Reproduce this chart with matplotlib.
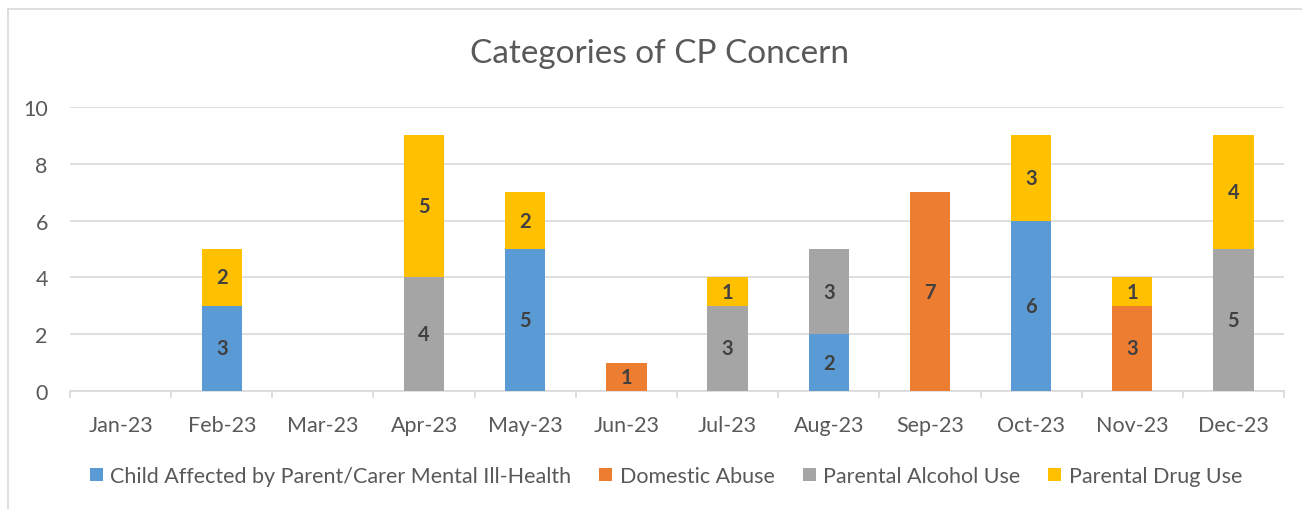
import matplotlib
matplotlib.use("Agg")
import matplotlib.pyplot as plt
from matplotlib.lines import Line2D
import numpy as np

plt.rcParams['font.family'] = ['Lato', 'DejaVu Sans']

months = ["Jan-23", "Feb-23", "Mar-23", "Apr-23", "May-23", "Jun-23",
          "Jul-23", "Aug-23", "Sep-23", "Oct-23", "Nov-23", "Dec-23"]
mental_health = [0, 3, 0, 0, 5, 0, 0, 2, 0, 6, 0, 0]
domestic_abuse = [0, 0, 0, 0, 0, 1, 0, 0, 7, 0, 3, 0]
alcohol_use = [0, 0, 0, 4, 0, 0, 3, 3, 0, 0, 0, 5]
drug_use = [0, 2, 0, 5, 2, 0, 1, 0, 0, 3, 1, 4]

series_names = ["Child Affected by Parent/Carer Mental Ill-Health",
                "Domestic Abuse", "Parental Alcohol Use", "Parental Drug Use"]
colors = ["#5B9BD5", "#ED7D31", "#A5A5A5", "#FFC000"]

fig = plt.figure(figsize=(13.02, 5.10), dpi=100)
ax = fig.add_axes([70/1302, 1-392/510, (1284-70)/1302, (392-108)/510])

x = np.arange(len(months))
bottom = np.zeros(len(months))
handles = []
for vals, name, col in zip([mental_health, domestic_abuse, alcohol_use, drug_use], series_names, colors):
    vals = np.array(vals, dtype=float)
    bars = ax.bar(x, vals, width=0.4, bottom=bottom, color=col, label=name, zorder=3)
    for xi, v, b in zip(x, vals, bottom):
        if v > 0:
            ax.text(xi, b + v/2, f"{int(v)}", ha='center', va='center',
                    fontsize=14.5, fontweight='bold', color='#404040', zorder=4)
    bottom += vals
    handles.append(bars)

ax.set_xlim(-0.5, 11.5)
ax.set_ylim(0, 10)
ax.set_yticks([0, 2, 4, 6, 8, 10])
ax.set_xticks(x)
ax.set_xticklabels(months)
ax.yaxis.grid(True, color='#D9D9D9', linewidth=1.2, zorder=0)
ax.set_axisbelow(True)
for s in ['top', 'right', 'left']:
    ax.spines[s].set_visible(False)
ax.spines['bottom'].set_color('#D9D9D9')
ax.spines['bottom'].set_linewidth(1.2)
ax.tick_params(axis='y', length=0, pad=16, labelsize=15.5, labelcolor='#595959')
ax.tick_params(axis='x', length=0, pad=17, labelsize=15.5, labelcolor='#595959')
# Minor ticks at category boundaries (Excel style)
ax.set_xticks(np.arange(-0.5, 12, 1), minor=True)
ax.tick_params(axis='x', which='minor', length=5, width=1.2, color='#D9D9D9', direction='out')

fig.text(660/1302, 1-54/510, "Categories of CP Concern", ha='center', va='center',
         fontsize=24, color='#595959')

leg = fig.legend(handles=handles, labels=series_names, loc='center',
                 bbox_to_anchor=(666/1302, 1-477/510), ncol=4, frameon=False,
                 fontsize=15.5, handlelength=0.6, handleheight=0.6,
                 handletextpad=0.35, columnspacing=1.3)
for t in leg.get_texts():
    t.set_color('#595959')

# chart area border (left and top visible)
fig.add_artist(Line2D([7.5/1302, 7.5/1302], [0, 1-10/510], transform=fig.transFigure,
                      color='#D9D9D9', linewidth=1.2))
fig.add_artist(Line2D([7.5/1302, 1], [1-10/510, 1-10/510], transform=fig.transFigure,
                      color='#D9D9D9', linewidth=1.2))

fig.savefig("out.png", dpi=100, facecolor='white')
